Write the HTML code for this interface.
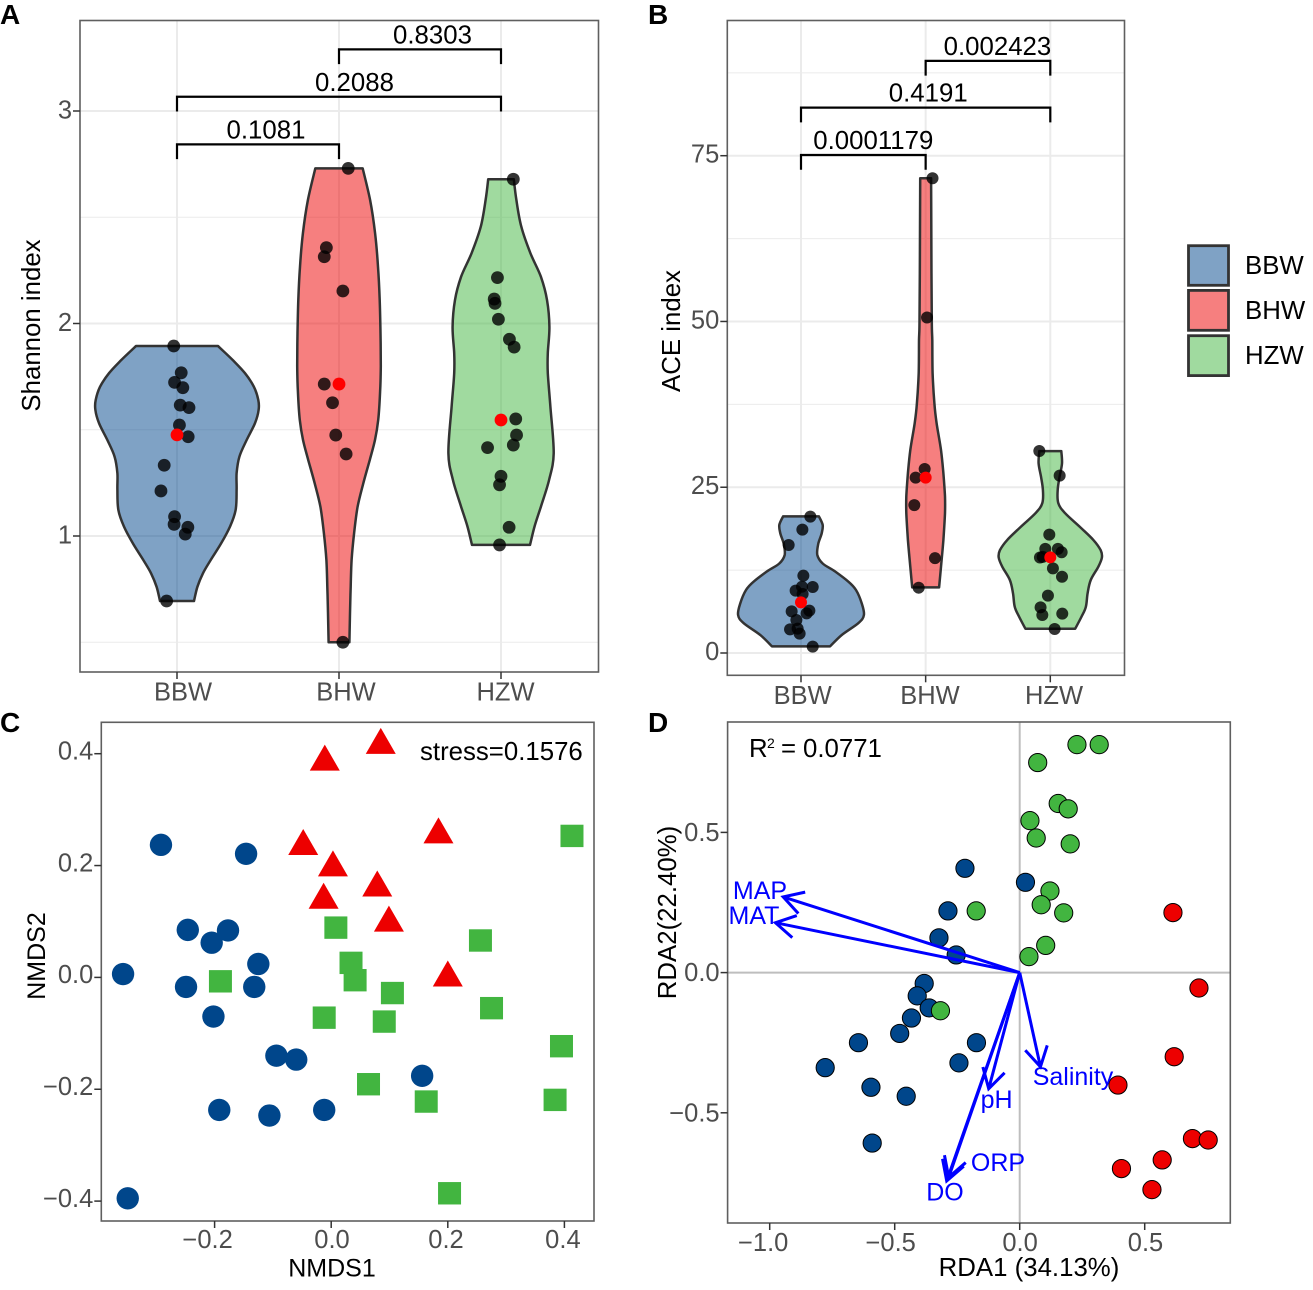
<!DOCTYPE html>
<html lang="en">
<head>
<meta charset="utf-8">
<title>Alpha diversity, NMDS and RDA panels</title>
<style>
html,body{margin:0;padding:0;background:#fff;}
svg{display:block;font-family:"Liberation Sans",Arial,sans-serif;}
.tit{font-size:25.8px;fill:#000;}
.tk{font-size:25.5px;fill:#4d4d4d;}
.let{font-size:28px;font-weight:bold;fill:#000;}
.env{font-size:25px;fill:#0000ff;}
</style>
</head>
<body>
<svg id="figure" xmlns="http://www.w3.org/2000/svg" width="1313" height="1290" viewBox="0 0 1313 1290">
  <rect x="0" y="0" width="1313" height="1290" fill="#fff"/>

  <g id="panelA"></g>
  <g id="panelB"></g>
  <g id="panelC"></g>
  <g id="panelD"></g>

  <text class="let" x="0" y="24">A</text>
  <text class="let" x="648" y="24">B</text>
  <text class="let" x="0" y="732">C</text>
  <text class="let" x="648" y="732">D</text>

  <text class="tit" text-anchor="middle" transform="translate(40,325.5) rotate(-90)">Shannon index</text>
  <text class="tit" text-anchor="middle" transform="translate(680,331) rotate(-90)">ACE index</text>
  <text class="tit" text-anchor="middle" transform="translate(45,956) rotate(-90)" style="font-size:25px">NMDS2</text>
  <text class="tit" text-anchor="middle" x="332" y="1276.5" style="font-size:25px">NMDS1</text>
  <text class="tit" text-anchor="middle" transform="translate(676,912.5) rotate(-90)">RDA2(22.40%)</text>
  <text class="tit" text-anchor="middle" x="1029" y="1276">RDA1 (34.13%)</text>

  <text class="tit" x="420" y="760">stress=0.1576</text>
  <text class="tit" y="757"><tspan x="749">R</tspan><tspan x="767" dy="-9" style="font-size:14px">2</tspan><tspan x="781" dy="9">=</tspan><tspan x="803">0.0771</tspan></text>

  <g>
    <g>
      <rect x="1188.5" y="245.7" width="40" height="39.6" fill="#00468b" fill-opacity="0.5" stroke="#333" stroke-width="2.8"/>
      <text class="tit" x="1245" y="274">BBW</text>
    </g>
    <g>
      <rect x="1188.5" y="290.4" width="40" height="39.9" fill="#ed0000" fill-opacity="0.5" stroke="#333" stroke-width="2.8"/>
      <text class="tit" x="1245" y="319">BHW</text>
    </g>
    <g>
      <rect x="1188.5" y="335.7" width="40" height="39.9" fill="#42b540" fill-opacity="0.5" stroke="#333" stroke-width="2.8"/>
      <text class="tit" x="1245" y="364">HZW</text>
    </g>
  </g>
</svg>

<script>
/* ---------- shared categories ---------- */
const groups = ['BBW', 'BHW', 'HZW'];

/* ---------- panel A data: Shannon index ---------- */
const shannonTicks = [1, 2, 3];
const shannonMinorTicks = [0.5, 1.5, 2.5];
const shannonBBW = [1.894, 1.768, 1.723, 1.698, 1.616, 1.604, 1.522, 1.467, 1.333, 1.212, 1.091, 1.055, 1.041, 1.009, 0.694];
const shannonBBWJitter = [-0.020, 0.026, -0.015, 0.036, 0.020, 0.074, 0.015, 0.069, -0.079, -0.099, -0.015, -0.018, 0.067, 0.051, -0.064];
const shannonBHW = [2.730, 2.357, 2.314, 2.153, 1.715, 1.627, 1.475, 1.386, 0.500];
const shannonBHWJitter = [0.057, -0.078, -0.091, 0.024, -0.091, -0.040, -0.020, 0.044, 0.024];
const shannonHZW = [2.679, 2.216, 2.115, 2.095, 2.020, 1.926, 1.889, 1.551, 1.475, 1.428, 1.416, 1.281, 1.241, 1.041, 0.958];
const shannonHZWJitter = [0.076, -0.022, -0.042, -0.037, -0.016, 0.052, 0.081, 0.091, 0.096, 0.076, -0.083, 0, -0.009, 0.050, -0.009];
const shannonMeans = [1.476, 1.715, 1.546];
const shannonBBWDensityY = [1.894, 1.828, 1.766, 1.702, 1.640, 1.593, 1.530, 1.452, 1.373, 1.295, 1.216, 1.122, 1.044, 0.965, 0.887, 0.824, 0.761, 0.694];
const shannonBBWDensity = [0.253, 0.344, 0.420, 0.475, 0.502, 0.504, 0.481, 0.430, 0.385, 0.368, 0.368, 0.362, 0.327, 0.272, 0.208, 0.160, 0.126, 0.105];
const shannonBHWDensityY = [2.730, 2.581, 2.424, 2.267, 2.111, 1.955, 1.800, 1.680, 1.546, 1.452, 1.358, 1.248, 1.138, 1.013, 0.887, 0.762, 0.636, 0.500];
const shannonBHWDensity = [0.146, 0.192, 0.223, 0.241, 0.251, 0.256, 0.258, 0.254, 0.242, 0.222, 0.190, 0.150, 0.115, 0.093, 0.078, 0.072, 0.068, 0.064];
const shannonHZWDensityY = [2.679, 2.581, 2.456, 2.330, 2.220, 2.111, 1.985, 1.861, 1.766, 1.608, 1.389, 1.264, 1.138, 1.044, 0.958];
const shannonHZWDensity = [0.079, 0.095, 0.125, 0.182, 0.246, 0.284, 0.299, 0.289, 0.289, 0.305, 0.325, 0.297, 0.246, 0.207, 0.179];
const shannonPValues = ['0.1081', '0.2088', '0.8303'];
const shannonPFrom = [0, 0, 1];
const shannonPTo = [1, 2, 2];
const shannonPLevel = [2.843, 3.067, 3.290];

/* ---------- panel B data: ACE index ---------- */
const aceTicks = [0, 25, 50, 75];
const aceMinorTicks = [12.5, 37.5, 62.5, 87.5];
const aceBBW = [20.56, 18.6, 16.29, 11.66, 9.95, 10.0, 9.4, 8.9, 6.28, 6.39, 5.98, 4.98, 3.57, 3.67, 2.92, 0.96];
const aceBBWJitter = [0.075, 0.011, -0.099, 0.019, 0.094, 0.008, -0.043, 0.013, -0.075, 0.067, 0.045, -0.037, -0.088, -0.027, -0.011, 0.094];
const aceBHW = [71.6, 50.6, 27.75, 26.45, 22.3, 14.3, 9.85];
const aceBHWJitter = [0.055, 0.011, -0.008, -0.08, -0.091, 0.075, -0.056];
const aceHZW = [30.47, 26.75, 17.85, 15.7, 15.7, 15.2, 14.5, 14.4, 12.77, 11.5, 8.65, 6.89, 5.73, 5.93, 3.62];
const aceHZWJitter = [-0.088, 0.075, -0.008, -0.04, 0.061, 0.091, -0.061, -0.083, 0.021, 0.094, -0.019, -0.078, -0.064, 0.096, 0.035];
const aceMeans = [7.64, 26.45, 14.43];
const aceBBWDensityY = [20.6, 19.3, 18.05, 16.5, 14.8, 13.5, 12.3, 10.76, 9.5, 7.5, 5.73, 4.5, 2.7, 1.0];
const aceBBWDensity = [0.144, 0.174, 0.166, 0.139, 0.131, 0.174, 0.273, 0.38, 0.441, 0.487, 0.505, 0.46, 0.326, 0.233];
const aceBHWDensityY = [71.6, 60, 50, 47.2, 42.2, 37.66, 34.65, 30.6, 27.1, 23.6, 21.1, 17.05, 13.0, 9.9];
const aceBHWDensity = [0.044, 0.046, 0.049, 0.053, 0.056, 0.07, 0.088, 0.123, 0.142, 0.155, 0.155, 0.142, 0.123, 0.108];
const aceHZWDensityY = [30.45, 28.6, 26.6, 24.6, 22.6, 21.1, 19.0, 17.05, 15.5, 14.4, 13.0, 11.0, 9.0, 7.0, 5.5, 3.67];
const aceHZWDensity = [0.088, 0.094, 0.075, 0.059, 0.064, 0.118, 0.238, 0.345, 0.404, 0.414, 0.385, 0.324, 0.299, 0.286, 0.251, 0.2];
const acePValues = ['0.0001179', '0.4191', '0.002423'];
const acePFrom = [0, 0, 1];
const acePTo = [1, 2, 2];
const acePLevel = [75.1, 82.25, 89.3];

/* ---------- panel C data: NMDS ---------- */
const nmdsXTicks = [-0.2, 0, 0.2, 0.4];
const nmdsXTickLabels = ['\u22120.2', '0.0', '0.2', '0.4'];
const nmdsYTicks = [-0.4, -0.2, 0, 0.2, 0.4];
const nmdsYTickLabels = ['\u22120.4', '\u22120.2', '0.0', '0.2', '0.4'];
const nmdsBBWx = [-0.292, -0.146, -0.246, -0.177, -0.205, -0.125, -0.357, -0.249, -0.132, -0.202, -0.094, -0.060, 0.156, -0.192, -0.106, -0.012, -0.349];
const nmdsBBWy = [0.237, 0.221, 0.085, 0.084, 0.062, 0.024, 0.006, -0.017, -0.017, -0.070, -0.140, -0.147, -0.176, -0.237, -0.247, -0.237, -0.395];
const nmdsBHWx = [-0.011, 0.085, 0.184, -0.048, 0.003, 0.079, -0.013, 0.099, 0.200];
const nmdsBHWy = [0.393, 0.423, 0.263, 0.242, 0.204, 0.168, 0.146, 0.105, 0.007];
const nmdsHZWx = [0.413, 0.008, 0.256, 0.034, 0.041, -0.190, 0.105, 0.275, -0.012, 0.091, 0.395, 0.064, 0.163, 0.384, 0.203];
const nmdsHZWy = [0.253, 0.089, 0.066, 0.026, -0.005, -0.007, -0.028, -0.055, -0.072, -0.079, -0.123, -0.191, -0.222, -0.219, -0.386];

/* ---------- panel D data: RDA ---------- */
const rdaXTicks = [-1, -0.5, 0, 0.5];
const rdaXTickLabels = ['\u22121.0', '\u22120.5', '0.0', '0.5'];
const rdaYTicks = [-0.5, 0, 0.5];
const rdaYTickLabels = ['\u22120.5', '0.0', '0.5'];
const rdaBBWx = [-0.219, 0.023, -0.287, -0.323, -0.254, -0.382, -0.410, -0.362, -0.433, -0.480, -0.645, -0.173, -0.243, -0.778, -0.595, -0.454, -0.590];
const rdaBBWy = [0.372, 0.322, 0.220, 0.124, 0.063, -0.039, -0.083, -0.126, -0.162, -0.217, -0.250, -0.250, -0.322, -0.339, -0.409, -0.441, -0.608];
const rdaHZWx = [0.229, 0.318, 0.072, 0.154, 0.194, 0.041, 0.066, 0.202, 0.121, 0.086, 0.176, -0.174, 0.104, 0.037, -0.317];
const rdaHZWy = [0.813, 0.813, 0.749, 0.603, 0.584, 0.542, 0.480, 0.459, 0.291, 0.242, 0.213, 0.220, 0.097, 0.057, -0.136];
const rdaBHWx = [0.613, 0.717, 0.618, 0.393, 0.691, 0.754, 0.570, 0.407, 0.529];
const rdaBHWy = [0.214, -0.055, -0.300, -0.401, -0.592, -0.597, -0.668, -0.699, -0.774];
const envNames = ['MAP', 'MAT', 'Salinity', 'pH', 'ORP', 'DO'];
const envX = [-0.946, -0.977, 0.083, -0.124, -0.284, -0.292];
const envY = [0.270, 0.178, -0.336, -0.414, -0.730, -0.743];

/* ---------- helpers ---------- */
const NS = 'http://www.w3.org/2000/svg';
function make(parent, tag, attrs, txt) {
  const el = document.createElementNS(NS, tag);
  for (const k in attrs) el.setAttribute(k, attrs[k]);
  if (txt !== undefined) el.textContent = txt;
  parent.appendChild(el);
  return el;
}
function linear(d0, r0, d1, r1) {
  return function (v) { return r0 + (v - d0) * (r1 - r0) / (d1 - d0); };
}
function sideCurve(pts) {
  let s = '';
  for (let i = 0; i < pts.length - 1; i++) {
    const p0 = pts[Math.max(i - 1, 0)], p1 = pts[i], p2 = pts[i + 1], p3 = pts[Math.min(i + 2, pts.length - 1)];
    const c1x = p1[0] + (p2[0] - p0[0]) / 6, c1y = p1[1] + (p2[1] - p0[1]) / 6;
    const c2x = p2[0] - (p3[0] - p1[0]) / 6, c2y = p2[1] - (p3[1] - p1[1]) / 6;
    s += 'C' + c1x.toFixed(1) + ' ' + c1y.toFixed(1) + ' ' + c2x.toFixed(1) + ' ' + c2y.toFixed(1) + ' ' + p2[0].toFixed(1) + ' ' + p2[1].toFixed(1);
  }
  return s;
}
function frame(parent, box) {
  const el = make(parent, 'rect', { x: box.l, y: box.t, width: box.r - box.l, height: box.b - box.t, fill: 'none', stroke: '#5f5f5f', 'stroke-width': 1.6 });
  
  
}
function yAxis(parent, box, yS, ticks, labels, dy) {
  ticks.forEach(function (t, i) {
    const tick = make(parent, 'line', { x1: box.l - 7, x2: box.l, y1: yS(t), y2: yS(t), stroke: '#333', 'stroke-width': 1.5 });
    
    
    const lab = make(parent, 'text', { class: 'tk', x: box.l - 8, y: yS(t) + dy, 'text-anchor': 'end' }, labels[i]);
    
    
  });
}
function xAxis(parent, box, xS, ticks, labels, nudges, baseline) {
  ticks.forEach(function (t, i) {
    const tick = make(parent, 'line', { y1: box.b, y2: box.b + 7, x1: xS(t), x2: xS(t), stroke: '#333', 'stroke-width': 1.5 });
    
    
    const lab = make(parent, 'text', { class: 'tk', x: xS(t) + nudges[i], y: baseline, 'text-anchor': 'middle' }, labels[i]);
    
    
  });
}
function grid(parent, box, xS, yS, majors, minors) {
  minors.forEach(function (t) {
    const g = make(parent, 'line', { x1: box.l, x2: box.r, y1: yS(t), y2: yS(t), stroke: '#ebebeb', 'stroke-width': 1 });
    
    
  });
  majors.forEach(function (t) {
    const g = make(parent, 'line', { x1: box.l, x2: box.r, y1: yS(t), y2: yS(t), stroke: '#ebebeb', 'stroke-width': 2 });
    
    
  });
  groups.forEach(function (_, i) {
    const g = make(parent, 'line', { y1: box.t, y2: box.b, x1: xS(i), x2: xS(i), stroke: '#ebebeb', 'stroke-width': 2 });
    
    
  });
}

const groupFill = ['#00468b', '#ed0000', '#42b540'];

function violin(parent, xS, yS, idx, densY, dens) {
  const right = densY.map(function (v, i) { return [xS(idx + dens[i]), yS(v)]; });
  const left = densY.map(function (v, i) { return [xS(idx - dens[i]), yS(v)]; }).reverse();
  const d = 'M' + right[0][0].toFixed(1) + ' ' + right[0][1].toFixed(1) + sideCurve(right) +
    'L' + left[0][0].toFixed(1) + ' ' + left[0][1].toFixed(1) + sideCurve(left) + 'Z';
  const el = make(parent, 'path', { d: d, fill: groupFill[idx], 'fill-opacity': 0.5, stroke: '#333', 'stroke-width': 2.5, 'stroke-linejoin': 'round' });
  
  
}
function jitterDots(parent, xS, yS, idx, vals, jit, r) {
  vals.forEach(function (v, i) {
    const c = make(parent, 'circle', { cx: xS(idx + jit[i]), cy: yS(v), r: r, fill: '#000', 'fill-opacity': 0.8 });
    
    
  });
}
function meanDot(parent, xS, yS, idx, v, r) {
  const c = make(parent, 'circle', { cx: xS(idx), cy: yS(v), r: r, fill: '#ff0000' });
  
  
}
function bracket(parent, xS, yS, a, b, level, label, labelNudge) {
  const y = yS(level), leg = 14.7;
  const p = make(parent, 'path', { d: 'M' + xS(a) + ' ' + (y + leg) + 'V' + y + 'H' + xS(b) + 'V' + (y + leg), fill: 'none', stroke: '#000', 'stroke-width': 2.2 });
  
  
  const t = make(parent, 'text', { x: (xS(a) + xS(b)) / 2 + labelNudge, y: y - 6, 'text-anchor': 'middle', 'font-size': 25.8, fill: '#000' }, label);
  
  
}

/* ---------- panel A ---------- */
(function () {
  const g = document.getElementById('panelA');
  const box = { l: 80, r: 598.5, t: 20.5, b: 672 };
  const x = linear(0, 177, 2, 501);
  const y = linear(1, 536, 3, 111);
  grid(g, box, x, y, shannonTicks, shannonMinorTicks);
  violin(g, x, y, 0, shannonBBWDensityY, shannonBBWDensity);
  violin(g, x, y, 1, shannonBHWDensityY, shannonBHWDensity);
  violin(g, x, y, 2, shannonHZWDensityY, shannonHZWDensity);
  jitterDots(g, x, y, 0, shannonBBW, shannonBBWJitter, 6.4);
  jitterDots(g, x, y, 1, shannonBHW, shannonBHWJitter, 6.4);
  jitterDots(g, x, y, 2, shannonHZW, shannonHZWJitter, 6.4);
  shannonMeans.forEach(function (m, i) { meanDot(g, x, y, i, m, 6.4); });
  const nudges = [8, 15.5, 12.5];
  shannonPValues.forEach(function (p, i) { bracket(g, x, y, shannonPFrom[i], shannonPTo[i], shannonPLevel[i], p, nudges[i]); });
  frame(g, box);
  yAxis(g, box, y, shannonTicks, shannonTicks.map(String), 7.5);
  xAxis(g, box, x, [0, 1, 2], groups, [6, 7, 4.5], 700.5);
})();

/* ---------- panel B ---------- */
(function () {
  const g = document.getElementById('panelB');
  const box = { l: 727.3, r: 1124.5, t: 20.5, b: 675.3 };
  const x = linear(0, 801, 2, 1050.3);
  const y = linear(0, 653, 75, 155.7);
  grid(g, box, x, y, aceTicks, aceMinorTicks);
  violin(g, x, y, 0, aceBBWDensityY, aceBBWDensity);
  violin(g, x, y, 1, aceBHWDensityY, aceBHWDensity);
  violin(g, x, y, 2, aceHZWDensityY, aceHZWDensity);
  jitterDots(g, x, y, 0, aceBBW, aceBBWJitter, 6);
  jitterDots(g, x, y, 1, aceBHW, aceBHWJitter, 6);
  jitterDots(g, x, y, 2, aceHZW, aceHZWJitter, 6);
  aceMeans.forEach(function (m, i) { meanDot(g, x, y, i, m, 6); });
  const nudges = [10, 2.6, 9.5];
  acePValues.forEach(function (p, i) { bracket(g, x, y, acePFrom[i], acePTo[i], acePLevel[i], p, nudges[i]); });
  frame(g, box);
  yAxis(g, box, y, aceTicks, aceTicks.map(String), 7);
  xAxis(g, box, x, [0, 1, 2], groups, [1.7, 4.3, 3.7], 704);
})();

/* ---------- panel C ---------- */
(function () {
  const g = document.getElementById('panelC');
  const box = { l: 101.3, r: 594, t: 722.3, b: 1221 };
  const x = linear(0, 331.2, 0.4, 564.4);
  const y = linear(0, 977.4, 0.4, 753.7);
  nmdsBBWx.forEach(function (v, i) {
    const c = make(g, 'circle', { cx: x(v), cy: y(nmdsBBWy[i]), r: 11.2, fill: '#00468b' });
    
    
  });
  nmdsBHWx.forEach(function (v, i) {
    const cx = x(v), cy = y(nmdsBHWy[i]);
    const t = make(g, 'polygon', { points: cx + ',' + (cy - 13) + ' ' + (cx + 15) + ',' + (cy + 13) + ' ' + (cx - 15) + ',' + (cy + 13), fill: '#ed0000' });
    
    
  });
  nmdsHZWx.forEach(function (v, i) {
    const cx = x(v), cy = y(nmdsHZWy[i]);
    const s = make(g, 'rect', { x: cx - 11.5, y: cy - 11.2, width: 23, height: 22.4, fill: '#42b540' });
    
    
  });
  frame(g, box);
  yAxis(g, box, y, nmdsYTicks, nmdsYTickLabels, 5.8);
  xAxis(g, box, x, nmdsXTicks, nmdsXTickLabels, [-7, 0.8, -1.8, -1.5], 1248);
})();

/* ---------- panel D ---------- */
(function () {
  const g = document.getElementById('panelD');
  const box = { l: 727.6, r: 1230.3, t: 722, b: 1223 };
  const x = linear(0, 1019.7, 0.5, 1144.7);
  const y = linear(0, 972.6, 0.5, 832.4);
  const h = make(g, 'line', { x1: box.l, x2: box.r, y1: y(0), y2: y(0), stroke: '#bebebe', 'stroke-width': 2 });
  
  
  const v = make(g, 'line', { y1: box.t, y2: box.b, x1: x(0), x2: x(0), stroke: '#bebebe', 'stroke-width': 2 });
  
  

  function dots(xs, ys, fill, key) {
    xs.forEach(function (val, i) {
      const c = make(g, 'circle', { cx: x(val), cy: y(ys[i]), r: 9.1, fill: fill, stroke: '#000', 'stroke-width': 1 });
      
      
    });
  }
  dots(rdaBBWx, rdaBBWy, '#00468b', 'bbw');
  dots(rdaHZWx, rdaHZWy, '#42b540', 'hzw');
  dots(rdaBHWx, rdaBHWy, '#ed0000', 'bhw');

  const labelX = [760, 754, 1073, 996.6, 998, 945];
  const labelY = [899, 924, 1085, 1108, 1171, 1200.5];
  envNames.forEach(function (name, i) {
    const tx = x(envX[i]), ty = y(envY[i]), ox = x(0), oy = y(0);
    const ang = Math.atan2(oy - ty, ox - tx), len = 22.5, spread = Math.PI / 6;
    const a1x = tx + len * Math.cos(ang + spread), a1y = ty + len * Math.sin(ang + spread);
    const a2x = tx + len * Math.cos(ang - spread), a2y = ty + len * Math.sin(ang - spread);
    const a = make(g, 'path', {
      d: 'M' + ox + ' ' + oy + 'L' + tx + ' ' + ty + 'M' + a1x + ' ' + a1y + 'L' + tx + ' ' + ty + 'L' + a2x + ' ' + a2y,
      fill: 'none', stroke: '#0000ff', 'stroke-width': 3
    });
    
    
    const t = make(g, 'text', { class: 'env', x: labelX[i], y: labelY[i], 'text-anchor': 'middle' }, name);
    
    
  });
  frame(g, box);
  yAxis(g, box, y, rdaYTicks, rdaYTickLabels, 8.5);
  xAxis(g, box, x, rdaXTicks, rdaXTickLabels, [-6.5, -4, 0.4, 0.8], 1251);
})();
</script>
</body>
</html>
